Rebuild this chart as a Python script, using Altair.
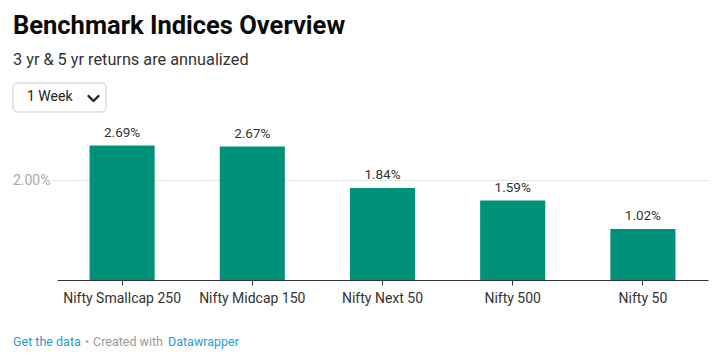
import altair as alt
import pandas as pd

indices = ["Nifty Smallcap 250", "Nifty Midcap 150", "Nifty Next 50", "Nifty 500", "Nifty 50"]
returns = [2.69, 2.67, 1.84, 1.59, 1.02]
grid_values = [2.0]

title_text = "Benchmark Indices Overview"
subtitle_text = "3 yr & 5 yr returns are annualized"
dropdown_text = ["1 Week"]

df = pd.DataFrame({"index": indices, "value": returns})

FONT = "Roboto"
BAR = "#00917a"

x_enc = alt.X(
    "index:N",
    sort=indices,
    title=None,
    scale=alt.Scale(paddingInner=0.5, paddingOuter=0.25),
    axis=alt.Axis(
        labelAngle=0, labelFontSize=14, labelColor="#333333", labelPadding=6,
        tickSize=5, tickColor="#333333", domainColor="#333333", labelFont=FONT,
        grid=False,
    ),
)
y_enc = alt.Y(
    "value:Q",
    title=None,
    scale=alt.Scale(domain=[0, 3], nice=False),
    axis=alt.Axis(
        values=grid_values, labelExpr="format(datum.value, '.2f') + '%'",
        labelFontSize=14, labelColor="#aaaaaa", labelPadding=2, tickSize=5,
        tickColor="#e6e6e6", domain=False, gridColor="#e6e6e6", labelFont=FONT,
    ),
)

bars = alt.Chart(df).mark_bar(color=BAR).encode(x=x_enc, y=y_enc)
labels = alt.Chart(df).transform_calculate(
    label="format(datum.value, '.2f') + '%'"
).mark_text(baseline="alphabetic", dy=-9, fontSize=13.5, color="#333333", font=FONT).encode(
    x=alt.X("index:N", sort=indices), y="value:Q", text="label:N"
)

dd = pd.DataFrame({"t": dropdown_text})
dd_box = alt.Chart(dd).mark_rect(
    fill="white", stroke="#cccccc", strokeWidth=1, cornerRadius=4
).encode(x=alt.value(-44), x2=alt.value(49), y=alt.value(-47), y2=alt.value(-18))
dd_text = alt.Chart(dd).mark_text(
    align="left", baseline="middle", fontSize=14, color="#222222", font=FONT
).encode(x=alt.value(-30), y=alt.value(-33), text="t:N")
dd_chev = alt.Chart(dd).mark_point(
    shape="M-1,-0.5L0,0.5L1,-0.5", filled=False, size=100, strokeWidth=2.4,
    color="#222222", opacity=1, strokeCap="round", strokeJoin="round",
).encode(x=alt.value(36.5), y=alt.value(-31.5))

footer_parts = ["Get the data", "•", "Created with", "Datawrapper"]
footer_colors = ["#2a9bd4", "#aaaaaa", "#999999", "#2a9bd4"]
footer_x = [-44, 28, 36, 111]
footer_layers = []
for txt, col, xx in zip(footer_parts, footer_colors, footer_x):
    footer_layers.append(
        alt.Chart(pd.DataFrame({"t": [txt]})).mark_text(
            align="left", baseline="middle", fontSize=12.5, color=col, font=FONT
        ).encode(x=alt.value(xx), y=alt.value(212), text="t:N")
    )

chart = alt.layer(bars, labels, dd_box, dd_text, dd_chev, *footer_layers).properties(
    width=651,
    height=150,
    autosize=alt.AutoSizeParams(type="none"),
    padding={"left": 57, "top": 130, "right": 14, "bottom": 73},
    background="white",
    title=alt.TitleParams(
        text=title_text,
        subtitle=subtitle_text,
        anchor="start",
        frame="group",
        dx=-44,
        offset=14,
        font=FONT,
        fontSize=25.5,
        fontWeight="bold",
        color="#0a0a0a",
        subtitleFont=FONT,
        subtitleFontSize=16.3,
        subtitleColor="#333333",
        subtitlePadding=13,
    ),
).configure_view(stroke=None)

chart.save("out.html", embed_options={"renderer": "svg", "actions": False})
